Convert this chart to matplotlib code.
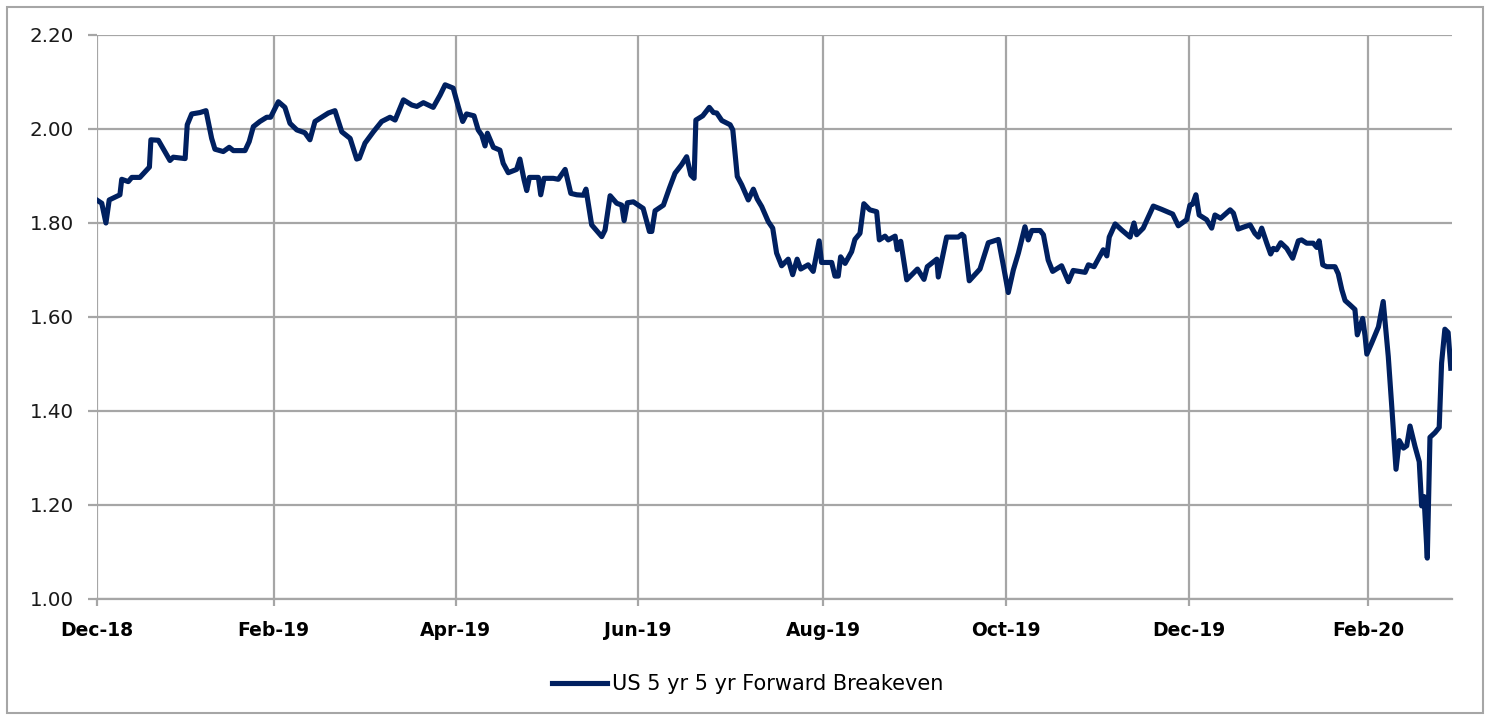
import pandas as pd
import matplotlib
matplotlib.use("Agg")
import matplotlib.pyplot as plt
from matplotlib.patches import Rectangle
from matplotlib.ticker import FormatStrFormatter

# --- DATA ---
START = "2018-12-01"
# days since START
days = [
    0.0, 1.7, 3.1, 4.2, 7.8, 8.4, 10.6, 11.8, 14.5, 17.7, 18.2, 20.7, 22.9, 24.6, 25.7,
    29.7, 30.4, 31.9, 34.7, 36.7, 38.6, 39.7, 42.5, 44.5, 45.9, 49.8, 51.2, 52.6, 54.8,
    57.1, 58.4, 61.0, 63.2, 64.9, 67.2, 69.9, 71.6, 73.3, 77.8,
    80.0, 82.3, 85.1, 87.3, 88.2, 90.1, 92.9, 95.7, 98.5, 100.2, 103.0, 105.8, 107.5,
    109.7, 113.0, 115.3, 117.0, 119.7, 121.4, 122.9, 124.2, 126.7, 128.1, 129.3, 130.4,
    131.2, 133.2, 135.4, 136.5, 138.2, 141.0, 142.1, 143.5, 144.4, 145.3, 148.3, 149.1,
    150.2, 153.3,
    155.0, 157.3, 159.2, 161.2, 163.4, 164.3, 166.2, 169.6, 170.7, 172.4, 174.6, 176.3,
    177.1, 178.2, 180.2, 183.5, 185.6, 186.4, 187.5, 190.3, 192.3, 194.2, 196.4, 198.1,
    199.5, 200.6, 201.2, 203.5, 205.7, 207.1, 208.2, 209.9, 212.7, 213.6, 215.1, 216.6,
    218.8, 220.5, 221.8, 223.3, 225.5, 227.0, 228.3, 230.0, 232.2,
    233.7, 235.2, 236.4, 238.9, 240.6, 242.6, 243.4, 246.8, 247.9, 249.0, 249.8, 251.3,
    253.5, 254.6, 256.3, 257.6, 259.6, 261.9, 262.8, 264.7, 265.8, 268.1, 268.8, 270.0,
    272.0, 275.6, 277.8, 278.9, 282.1, 282.6, 285.4, 289.3, 290.5, 291.2, 293.0, 296.6,
    299.4, 302.8, 304.4, 306.1, 307.8, 309.5,
    311.7, 312.8, 314.0, 316.8, 317.9, 319.5, 321.0, 324.0, 326.3, 327.9, 331.9, 333.0,
    334.9, 338.0, 339.2, 340.0, 342.0, 344.2, 347.0, 348.3, 349.2, 351.4, 354.8, 357.6,
    361.3, 363.2, 366.0, 367.1, 368.0, 369.1, 370.2, 372.7, 374.4, 375.5, 377.4, 380.6,
    381.7, 383.3, 385.0, 387.3,
    388.9, 390.1, 391.2, 392.9, 394.2, 395.1, 396.2, 397.6, 399.6, 401.6, 403.5, 404.6,
    406.3, 408.5, 409.7, 410.5, 411.7, 413.0, 415.8, 416.9, 418.1, 419.2, 420.8, 422.5,
    423.3, 424.2, 425.1, 425.9, 426.5, 428.1, 430.4, 432.0, 433.7, 434.8, 436.3, 437.4,
    438.8, 439.9, 441.0, 442.7, 444.1, 444.9, 445.7, 446.8, 447.7, 449.4, 450.8, 451.6,
    452.7, 453.8, 454.7,
]
breakeven = [
    1.849, 1.842, 1.800, 1.849, 1.860, 1.893, 1.888, 1.897, 1.897, 1.919, 1.977, 1.976,
    1.952, 1.933, 1.940, 1.937, 2.009, 2.032, 2.035, 2.039, 1.980, 1.957, 1.952, 1.961,
    1.954, 1.954, 1.973, 2.005, 2.016, 2.025, 2.025, 2.058, 2.046, 2.012, 1.998, 1.992,
    1.977, 2.016, 2.034,
    2.039, 1.994, 1.980, 1.936, 1.938, 1.970, 1.994, 2.016, 2.025, 2.019, 2.062, 2.051,
    2.048, 2.056, 2.046, 2.072, 2.094, 2.087, 2.048, 2.016, 2.032, 2.028, 1.998, 1.987,
    1.964, 1.991, 1.961, 1.955, 1.927, 1.907, 1.914, 1.936, 1.892, 1.869, 1.897, 1.897,
    1.860, 1.895, 1.895,
    1.893, 1.914, 1.863, 1.860, 1.859, 1.872, 1.796, 1.771, 1.785, 1.858, 1.842, 1.838,
    1.805, 1.843, 1.845, 1.831, 1.782, 1.782, 1.826, 1.838, 1.874, 1.906, 1.924, 1.941,
    1.902, 1.895, 2.019, 2.028, 2.046, 2.035, 2.034, 2.018, 2.009, 1.998, 1.899, 1.881,
    1.849, 1.872, 1.851, 1.835, 1.803, 1.789, 1.736, 1.709, 1.723,
    1.690, 1.723, 1.702, 1.711, 1.697, 1.762, 1.716, 1.716, 1.687, 1.687, 1.728, 1.714,
    1.739, 1.765, 1.778, 1.841, 1.828, 1.824, 1.764, 1.772, 1.764, 1.772, 1.743, 1.761,
    1.679, 1.702, 1.680, 1.707, 1.723, 1.685, 1.770, 1.770, 1.776, 1.772, 1.677, 1.702,
    1.758, 1.765, 1.711, 1.652, 1.700, 1.736,
    1.792, 1.764, 1.784, 1.784, 1.775, 1.721, 1.697, 1.709, 1.675, 1.699, 1.695, 1.711,
    1.707, 1.743, 1.730, 1.770, 1.798, 1.785, 1.770, 1.800, 1.775, 1.789, 1.836, 1.829,
    1.819, 1.794, 1.807, 1.838, 1.840, 1.860, 1.817, 1.807, 1.789, 1.817, 1.810, 1.828,
    1.821, 1.787, 1.791, 1.796,
    1.778, 1.770, 1.789, 1.757, 1.734, 1.746, 1.743, 1.758, 1.746, 1.725, 1.762, 1.764,
    1.757, 1.757, 1.748, 1.762, 1.711, 1.707, 1.707, 1.692, 1.658, 1.635, 1.626, 1.616,
    1.562, 1.579, 1.597, 1.560, 1.521, 1.544, 1.579, 1.633, 1.516, 1.416, 1.276, 1.337,
    1.321, 1.326, 1.368, 1.324, 1.292, 1.198, 1.218, 1.087, 1.344, 1.354, 1.365, 1.502,
    1.574, 1.567, 1.491,
]
series_label = "US 5 yr 5 yr Forward Breakeven"
y_ticks = [1.00, 1.20, 1.40, 1.60, 1.80, 2.00, 2.20]
# tick positions as placed on the reference axis (days since START)
x_tick_days = [0.0, 59.4, 120.5, 181.7, 244.0, 305.3, 366.9, 427.0]
x_tick_labels = ["Dec-18", "Feb-19", "Apr-19", "Jun-19", "Aug-19", "Oct-19", "Dec-19", "Feb-20"]
x_end_days = 455

# --- STYLE ---
LINE_COLOR = "#002060"
GRID_COLOR = "#A6A6A6"
plt.rcParams["font.family"] = ["DejaVu Sans"]

start = pd.to_datetime(START)
dates = start + pd.to_timedelta(days, unit="D")
tick_dates = start + pd.to_timedelta(x_tick_days, unit="D")

fig = plt.figure(figsize=(14.9, 7.17), dpi=100)
ax = fig.add_axes([0.0649, 0.1646, 0.9094, 0.7866])

ax.plot(dates, breakeven, color=LINE_COLOR, linewidth=3.7,
        solid_joinstyle="round", label=series_label, zorder=3)

ax.set_xlim(start, start + pd.Timedelta(days=x_end_days))
ax.set_ylim(1.0, 2.2)
ax.set_yticks(y_ticks)
ax.yaxis.set_major_formatter(FormatStrFormatter("%.2f"))
ax.set_xticks(tick_dates)
ax.set_xticklabels(x_tick_labels, fontweight="bold")

ax.grid(True, color=GRID_COLOR, linewidth=1.6)
ax.set_axisbelow(True)
for side in ["top", "right", "left"]:
    ax.spines[side].set_visible(False)
ax.spines["bottom"].set_color(GRID_COLOR)
ax.spines["bottom"].set_linewidth(1.6)

ax.tick_params(axis="y", length=6.5, width=1.6, color=GRID_COLOR, pad=10,
               labelsize=14.3, labelcolor="#1a1a1a")
ax.tick_params(axis="x", length=5, width=1.6, color=GRID_COLOR, pad=11,
               labelsize=13.5, labelcolor="#000000")

fig.legend(loc="center", bbox_to_anchor=(747.5 / 1490, 1 - 684 / 717), frameon=False,
           fontsize=15, handlelength=2.65, handletextpad=0.2)

# outer chart border
fig.patches.append(Rectangle((7 / 1490, 4 / 717), 1476 / 1490, 706 / 717,
                             transform=fig.transFigure, fill=False,
                             edgecolor="#A6A6A6", linewidth=1.5))

fig.savefig("out.png", dpi=100)
